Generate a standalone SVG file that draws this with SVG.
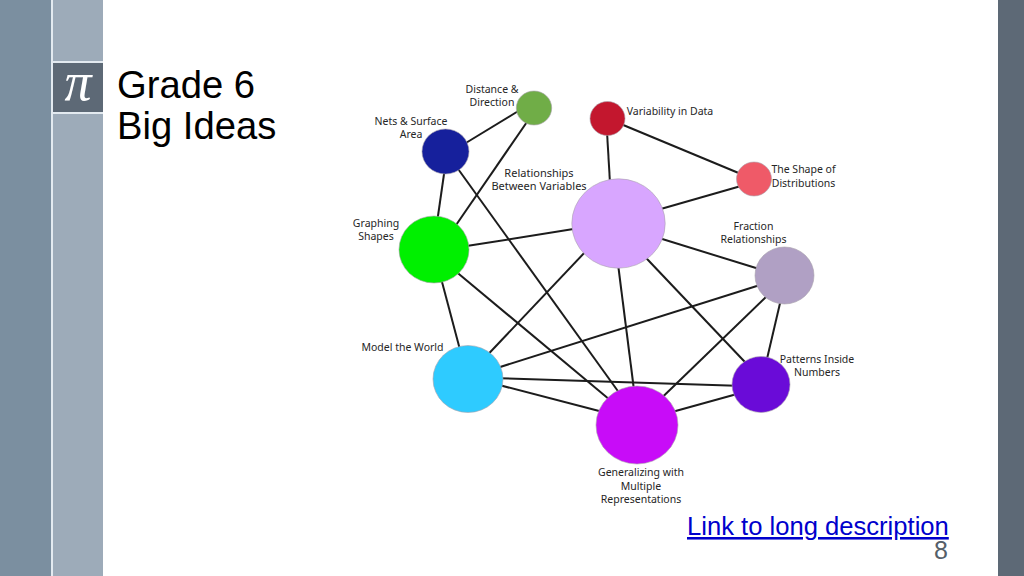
<svg xmlns="http://www.w3.org/2000/svg" width="1024" height="576" viewBox="0 0 1024 576">
<style>
.c{stroke:#1c1c1c;stroke-width:2;fill:none}
.n{stroke:#a9a3ad;stroke-width:.6}
.l{font-family:"Noto Sans","Open Sans",sans-serif;font-size:10.5px;fill:#262626;text-anchor:middle}
.h{font-family:"Liberation Sans",Arial,sans-serif}
</style>
<rect width="1024" height="576" fill="#fff"/>
<g id="sidebar">
<rect x="51" y="0" width="2" height="576" fill="#e3eaf0"/>
<rect x="53" y="61" width="50" height="2" fill="#e3eaf0"/>
<rect x="53" y="112" width="50" height="2" fill="#e3eaf0"/>
<rect x="0" y="0" width="51" height="576" fill="#7b8fa0"/>
<rect x="53" y="0" width="50" height="61" fill="#9dabb9"/>
<rect x="53" y="63" width="50" height="49" fill="#5d6976"/>
<rect x="53" y="114" width="50" height="462" fill="#9dabb9"/>
<rect x="998" y="0" width="26" height="576" fill="#5d6976"/>
<text x="78" y="100" text-anchor="middle" font-family="'Liberation Serif',serif" font-style="italic" font-size="54" fill="#fff">π</text>
</g>
<g id="title" class="h" font-size="38.200" fill="#000">
<text x="117" y="98">Grade 6</text>
<text x="117" y="139">Big Ideas</text>
</g>
<g id="connectors" class="c">
<line x1="520" y1="110" x2="465" y2="143.500"/>
<line x1="529" y1="119" x2="454" y2="228"/>
<line x1="444.600" y1="170" x2="437.400" y2="220"/>
<line x1="457" y1="167.500" x2="620" y2="394"/>
<line x1="622" y1="124.500" x2="741" y2="174"/>
<line x1="607" y1="132" x2="610" y2="183"/>
<line x1="741" y1="186" x2="659" y2="209.500"/>
<line x1="575" y1="228.800" x2="465" y2="246.300"/>
<line x1="659" y1="238" x2="760" y2="269.300"/>
<line x1="587" y1="250" x2="487" y2="355.500"/>
<line x1="618" y1="264" x2="634" y2="390"/>
<line x1="644" y1="255.700" x2="747.500" y2="364.700"/>
<line x1="441.500" y1="280" x2="460" y2="349.800"/>
<line x1="455" y1="270.700" x2="610" y2="400"/>
<line x1="497" y1="368" x2="760" y2="285"/>
<line x1="499" y1="378.200" x2="736" y2="385.800"/>
<line x1="499" y1="385" x2="603" y2="412"/>
<line x1="781" y1="299" x2="766.500" y2="361"/>
<line x1="768" y1="295" x2="661" y2="398.500"/>
<line x1="737" y1="394" x2="672" y2="412"/>
</g>
<g id="node-distance"><ellipse class="n" cx="534" cy="108" rx="17.700" ry="17" fill="#70ad47"/><text class="l" x="492" y="92.500">Distance &amp;</text><text class="l" x="492" y="105.500">Direction</text></g>
<g id="node-nets"><ellipse class="n" cx="445.500" cy="151.500" rx="23.500" ry="22.500" fill="#16209c"/><text class="l" x="411" y="125">Nets &amp; Surface</text><text class="l" x="411" y="138">Area</text></g>
<g id="node-variability"><ellipse class="n" cx="607.500" cy="118.500" rx="17.500" ry="17" fill="#c3172e"/><text class="l" x="670" y="115">Variability in Data</text></g>
<g id="node-shape"><ellipse class="n" cx="754" cy="179" rx="17.500" ry="17" fill="#ef5a68"/><text class="l" x="803.500" y="173">The Shape of</text><text class="l" x="803.500" y="186.500">Distributions</text></g>
<g id="node-relationships"><ellipse class="n" cx="618.500" cy="223.500" rx="46.700" ry="44.700" fill="#d8a6ff"/><text class="l" x="539" y="176.500" style="font-size:11px">Relationships</text><text class="l" x="539" y="189.500" style="font-size:11px">Between Variables</text></g>
<g id="node-graphing"><ellipse class="n" cx="434" cy="249.500" rx="35" ry="33.500" fill="#00f000"/><text class="l" x="376" y="227">Graphing</text><text class="l" x="376" y="240">Shapes</text></g>
<g id="node-fraction"><ellipse class="n" cx="784.500" cy="275.500" rx="29.500" ry="28.500" fill="#b0a0c4"/><text class="l" x="753.500" y="229.500">Fraction</text><text class="l" x="753.500" y="243">Relationships</text></g>
<g id="node-patterns"><ellipse class="n" cx="761" cy="384.500" rx="29" ry="28" fill="#6a0bd8"/><text class="l" x="817" y="362.500">Patterns Inside</text><text class="l" x="817" y="375.500">Numbers</text></g>
<g id="node-model"><ellipse class="n" cx="468" cy="379" rx="35" ry="33.500" fill="#2ecbff"/><text class="l" x="402.500" y="351">Model the World</text></g>
<g id="node-generalizing"><ellipse class="n" cx="637" cy="425" rx="41" ry="39" fill="#c80cf8"/><text class="l" x="641" y="476">Generalizing with</text><text class="l" x="641" y="489.500">Multiple</text><text class="l" x="641" y="502.500">Representations</text></g>
<g id="footer" class="h">
<text x="687" y="535" font-size="25.600" fill="#0000cc" text-decoration="underline">Link to long description</text>
<text x="948" y="559" font-size="25" fill="#565f69" text-anchor="end">8</text>
</g>
</svg>
